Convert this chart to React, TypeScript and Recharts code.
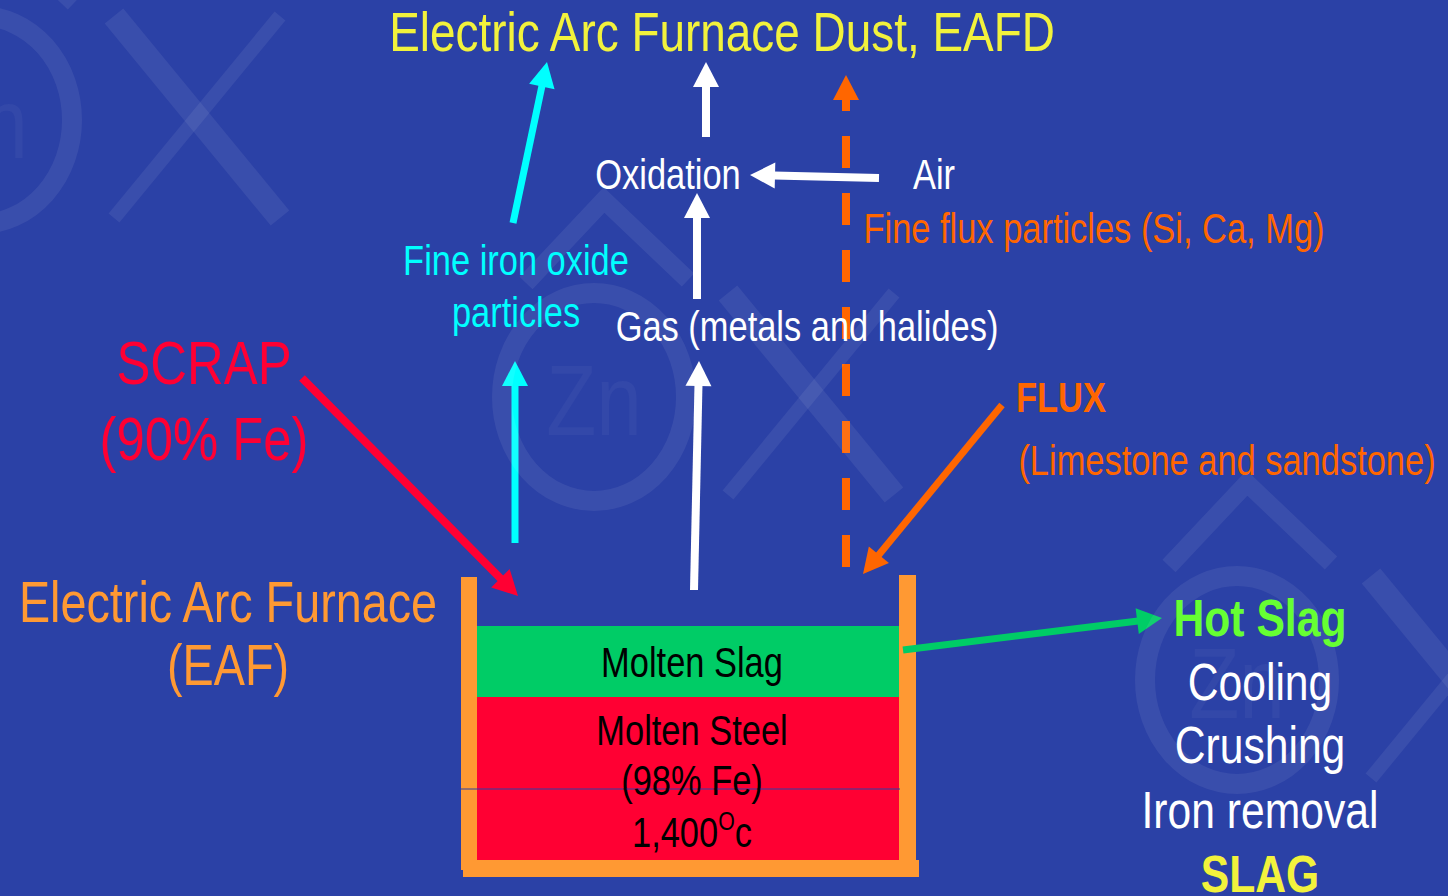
import { ComposedChart, XAxis, YAxis, Scatter, ReferenceArea, ReferenceLine } from "recharts";

const W = 1448;
const H = 896;
const BG = "#2b41a6";
const YELLOW = "#f2f23c";
const FONT = "'Liberation Sans', Arial, sans-serif";
const NARROW = 0.82;

// diagram space = the slide (x right, y down)
const TITLE = [{ text: "Electric Arc Furnace Dust, EAFD", x: 722, y: 51, kind: "title" }];

const GAS_LABELS = [
  { text: "Oxidation", x: 668, y: 189, kind: "white" },
  { text: "Air", x: 934, y: 189, kind: "white" },
  { text: "Fine flux particles (Si, Ca, Mg)", x: 1094, y: 243, kind: "flux" },
  { text: "Fine iron oxide", x: 516, y: 275, kind: "cyan" },
  { text: "particles", x: 516, y: 327, kind: "cyan" },
  { text: "Gas (metals and halides)", x: 807, y: 341, kind: "white" },
];

const INPUT_LABELS = [
  { text: "SCRAP", x: 204, y: 384, kind: "scrap" },
  { text: "(90% Fe)", x: 204, y: 460, kind: "scrap" },
  { text: "FLUX", x: 1061, y: 412, kind: "fluxBold" },
  { text: "(Limestone and sandstone)", x: 1227, y: 475, kind: "flux" },
  { text: "Electric Arc Furnace", x: 228, y: 622, kind: "eaf" },
  { text: "(EAF)", x: 228, y: 685, kind: "eaf" },
];

const MELT_LABELS = [
  { text: "Molten Slag", x: 692, y: 677, kind: "melt" },
  { text: "Molten Steel", x: 692, y: 745, kind: "melt" },
  { text: "(98% Fe)", x: 692, y: 795, kind: "melt" },
  { text: "1,400", sup: "O", tail: "c", x: 692, y: 847, kind: "melt" },
];

const SLAG_LABELS = [
  { text: "Hot Slag", x: 1260, y: 636, kind: "hot" },
  { text: "Cooling", x: 1260, y: 700, kind: "step" },
  { text: "Crushing", x: 1260, y: 763, kind: "step" },
  { text: "Iron removal", x: 1260, y: 828, kind: "step" },
  { text: "SLAG", x: 1260, y: 892, kind: "slag" },
];

// furnace layers and walls
const LAYERS = [
  { name: "slag", x1: 477, x2: 899, y1: 626, y2: 697, kind: "slag" },
  { name: "steel", x1: 477, x2: 900, y1: 697, y2: 861, kind: "steel" },
  { name: "left wall", x1: 461, x2: 477, y1: 577, y2: 870, kind: "wall" },
  { name: "bottom", x1: 463, x2: 919, y1: 860, y2: 877, kind: "wall" },
  { name: "right wall", x1: 899, x2: 916, y1: 575, y2: 877, kind: "wall" },
];

// arrows: tail -> head
const FLOWS = [
  { from: [513, 223], to: [547, 62], kind: "cyan" },
  { from: [515, 543], to: [515, 361], kind: "cyan" },
  { from: [706, 137], to: [706, 62], kind: "white" },
  { from: [697, 299], to: [697, 193], kind: "white" },
  { from: [879, 178], to: [750, 175], kind: "white" },
  { from: [694, 590], to: [699, 361], kind: "white" },
  { from: [846, 567], to: [846, 75], kind: "dashed" },
  { from: [302, 378], to: [518, 596], kind: "scrap" },
  { from: [1002, 405], to: [863, 574], kind: "flux" },
  { from: [903, 650], to: [1162, 618], kind: "slag" },
];

const WATERMARKS = [
  { x: -20, y: 120 },
  { x: 594, y: 397 },
  { x: 1237, y: 680 },
];

const TEXT_STYLE: Record<string, { size: number; fill: string; weight?: number }> = {
  title: { size: 56, fill: YELLOW },
  white: { size: 42, fill: "#ffffff" },
  cyan: { size: 42, fill: "#00ffff" },
  flux: { size: 42, fill: "#ff6600" },
  fluxBold: { size: 42, fill: "#ff6600", weight: 700 },
  scrap: { size: 62, fill: "#ff0033" },
  eaf: { size: 57, fill: "#ff9933" },
  melt: { size: 42, fill: "#000000" },
  hot: { size: 52, fill: "#66ff33", weight: 700 },
  step: { size: 52, fill: "#ffffff" },
  slag: { size: 52, fill: YELLOW, weight: 700 },
};

const AREA_FILL: Record<string, string> = {
  slag: "#00cc66",
  steel: "#ff0033",
  wall: "#ff9933",
};

const FLOW_STYLE: Record<string, { color: string; width: number; dash?: string }> = {
  cyan: { color: "#00ffff", width: 7 },
  white: { color: "#ffffff", width: 8 },
  dashed: { color: "#ff6600", width: 8, dash: "32 25" },
  scrap: { color: "#ff0033", width: 8 },
  flux: { color: "#ff6600", width: 7 },
  slag: { color: "#00cc66", width: 7 },
};

function Label(props: any) {
  const { cx, cy, payload } = props;
  if (cx == null || cy == null) return null;
  const s = TEXT_STYLE[payload.kind];
  const supSize = Math.round(s.size * 0.62);
  const lift = Math.round(s.size * 0.4);
  return (
    <text
      transform={`translate(${cx},${cy}) scale(${NARROW},1)`}
      textAnchor="middle"
      fontFamily={FONT}
      fontSize={s.size}
      fontWeight={s.weight ?? 400}
      fill={s.fill}
    >
      <tspan>{payload.text}</tspan>
      {payload.sup ? (
        <>
          <tspan fontSize={supSize} dy={-lift}>
            {payload.sup}
          </tspan>
          <tspan dy={lift}>{payload.tail}</tspan>
        </>
      ) : null}
    </text>
  );
}

// faint logo behind the slide
function Watermark(props: any) {
  const { cx, cy } = props;
  if (cx == null || cy == null) return null;
  const c = "rgba(255,255,255,0.07)";
  return (
    <g>
      <ellipse cx={cx} cy={cy} rx={92} ry={104} fill="none" stroke={c} strokeWidth={20} />
      <polyline
        points={`${cx - 68},${cy - 114} ${cx + 10},${cy - 197} ${cx + 94},${cy - 117}`}
        fill="none"
        stroke={c}
        strokeWidth={18}
      />
      <line x1={cx + 134} y1={cy - 104} x2={cx + 300} y2={cy + 98} stroke={c} strokeWidth={24} />
      <line x1={cx + 300} y1={cy - 104} x2={cx + 134} y2={cy + 98} stroke={c} strokeWidth={14} />
      <text
        transform={`translate(${cx},${cy + 38}) scale(${NARROW},1)`}
        textAnchor="middle"
        fontFamily={FONT}
        fontSize={100}
        fill="rgba(255,255,255,0.04)"
      >
        Zn
      </text>
    </g>
  );
}

function Arrow(props: any) {
  const { x1, y1, x2, y2, kind } = props;
  if ([x1, y1, x2, y2].some((v) => v == null || Number.isNaN(v))) return null;
  const st = FLOW_STYLE[kind];
  const dx = x2 - x1;
  const dy = y2 - y1;
  const len = Math.hypot(dx, dy) || 1;
  const ux = dx / len;
  const uy = dy / len;
  const headLen = 25;
  const half = 13;
  const bx = x2 - ux * headLen;
  const by = y2 - uy * headLen;
  const px = -uy * half;
  const py = ux * half;
  return (
    <g>
      <line x1={x1} y1={y1} x2={bx + ux} y2={by + uy} stroke={st.color} strokeWidth={st.width} strokeDasharray={st.dash} />
      <polygon points={`${x2},${y2} ${bx + px},${by + py} ${bx - px},${by - py}`} fill={st.color} />
    </g>
  );
}

export default function App() {
  const labelGroups = [TITLE, GAS_LABELS, INPUT_LABELS, MELT_LABELS, SLAG_LABELS];
  return (
    <div style={{ position: "absolute", left: 0, top: 0, width: W, height: H, background: BG, overflow: "hidden" }}>
      <ComposedChart width={W} height={H} margin={{ top: 0, right: 0, bottom: 0, left: 0 }}>
        <XAxis type="number" dataKey="x" domain={[0, W]} allowDataOverflow hide />
        <YAxis type="number" dataKey="y" domain={[0, H]} allowDataOverflow reversed hide />
        <Scatter data={WATERMARKS} shape={Watermark} isAnimationActive={false} />
        {LAYERS.map((l) => (
          <ReferenceArea
            key={l.name}
            x1={l.x1}
            x2={l.x2}
            y1={l.y1}
            y2={l.y2}
            fill={AREA_FILL[l.kind]}
            fillOpacity={1}
            stroke="none"
          />
        ))}
        <ReferenceLine
          segment={[
            { x: 461, y: 789 },
            { x: 900, y: 789 },
          ]}
          stroke={BG}
          strokeWidth={1}
        />
        {FLOWS.map((f, i) => (
          <ReferenceLine
            key={i}
            segment={[
              { x: f.from[0], y: f.from[1] },
              { x: f.to[0], y: f.to[1] },
            ]}
            shape={(p: any) => <Arrow {...p} kind={f.kind} />}
          />
        ))}
        {labelGroups.map((g, i) => (
          <Scatter key={i} data={g} shape={Label} isAnimationActive={false} />
        ))}
      </ComposedChart>
    </div>
  );
}
